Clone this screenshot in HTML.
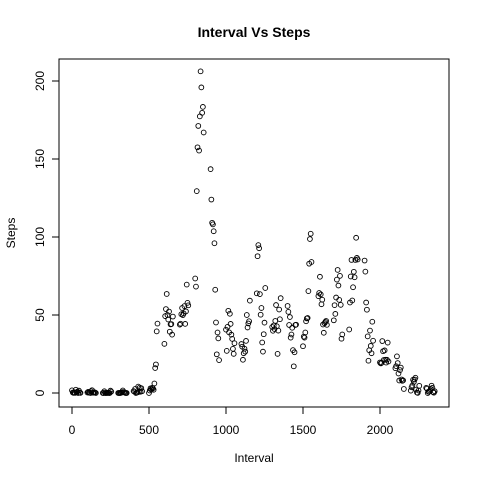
<!DOCTYPE html>
<html><head><meta charset="utf-8"><style>
body{margin:0;background:#fff;}
svg text{font-family:"Liberation Sans",Arial,sans-serif;}
</style></head><body>
<svg id="chart" width="480" height="480" xmlns="http://www.w3.org/2000/svg">
<rect width="480" height="480" fill="#fff"/>
<text x="254" y="37" text-anchor="middle" font-size="14" font-weight="bold">Interval Vs Steps</text>
<text x="254" y="462" text-anchor="middle" font-size="12">Interval</text>
<text x="15" y="233" text-anchor="middle" font-size="12" transform="rotate(-90 15 233)">Steps</text>
<rect x="59" y="59" width="390" height="348" fill="none" stroke="#000" stroke-width="1"/>
<g id="xaxis"></g><g id="yaxis"></g><g id="points"></g>
</svg>
<script>
const intervals=[];for(let h=0;h<24;h++)for(let m=0;m<60;m+=5)intervals.push(h*100+m);
const steps=[1.7,0.3,0.1,0.2,0.1,2.1,0.5,0.9,0,1.5,0.3,0.1,
0.3,0.7,0.2,0.3,0,1.1,1.8,0.2,0.2,0.4,0.3,0,
0,0,1.1,0,0,0.1,0,0.2,0,0,1.5,0.9,
0,0,0,0,0.2,0.6,1.6,0.6,0.5,0.1,0,0,
1.2,0.9,2.6,0,0.3,0.4,4.1,0.7,3.5,0.8,3.1,1.1,
0,1.6,3,2.2,3.3,3,2.1,6.1,16,18.3,39.5,44.5,
31.5,49.3,53.8,63.5,50,47.1,52.2,39.3,44,44.2,37.4,49,
43.8,44.4,50.5,54.5,49.9,51,55.7,44.3,52.3,69.5,57.8,56.2,
73.4,68.2,129.4,157.5,171.2,155.4,177.3,206.2,195.9,179.6,183.4,167,
143.5,124,109.1,108.1,103.7,96,66.2,45.2,24.8,38.8,35,21.1,
40.6,27,42.4,52.7,38.9,50.8,44.3,37.4,34.7,28.3,25.1,31.9,
31.4,29.7,21.3,25.5,28.4,26.5,33.4,50,42,44.6,46,59.2,
63.9,87.7,94.8,92.8,63.4,50.2,54.5,32.4,26.5,37.7,45.1,67.3,
42.3,39.9,43.3,41,46.2,56.4,42.8,25.1,40,53.5,47.3,60.8,
55.8,52,43.6,48.7,35.5,37.5,41.8,27.5,17.1,26.1,43.6,43.8,
30,36.1,35.5,38.8,46,47.8,48.1,65.3,82.9,98.7,102.1,84,
62.1,64.1,74.5,63.2,56.9,59.8,43.9,38.6,44.7,45.5,46.2,43.7,
46.6,56.3,50.7,61.2,72.7,78.9,68.9,59.7,75.1,56.5,34.8,37.5,
40.7,58,74.7,85.3,59.3,67.8,77.7,74.2,85.3,99.5,86.6,85.6,
84.9,77.8,58,53.4,36.3,20.7,27.4,40,30.2,25.5,45.7,33.5,
19.6,19,19.3,33.3,26.8,21.2,27.3,21.3,19.5,21.3,32.3,20.2,
15.9,17.2,23.5,19.2,12.5,8,14.7,16.3,8.7,7.8,8.1,2.6,
1.5,3.7,4.8,8.5,7.1,8.7,9.8,2.2,0.3,0.1,1.6,4.6,
3.3,2.8,0,0.8,1,1.6,2.6,4.7,3.3,0.6,0.2,1.1];
const xTicks=[0,500,1000,1500,2000];
const yTicks=[0,50,100,150,200];
const NS="http://www.w3.org/2000/svg";
const X=v=>72+v*0.154, Y=v=>393-v*1.56;
function mk(t,a,p){const e=document.createElementNS(NS,t);for(const k in a)e.setAttribute(k,a[k]);p.appendChild(e);return e;}
const xa=document.getElementById('xaxis'),ya=document.getElementById('yaxis'),pg=document.getElementById('points');
mk('line',{x1:X(0),x2:X(2000),y1:407,y2:407,stroke:'#000'},xa);
xTicks.forEach(t=>{mk('line',{x1:X(t),x2:X(t),y1:407,y2:414,stroke:'#000'},xa);
const tx=mk('text',{x:X(t),y:434,'text-anchor':'middle','font-size':12},xa);tx.textContent=t;

});
mk('line',{x1:59,x2:59,y1:Y(0),y2:Y(200),stroke:'#000'},ya);
yTicks.forEach(t=>{mk('line',{x1:52,x2:59,y1:Y(t),y2:Y(t),stroke:'#000'},ya);
const tx=mk('text',{x:44,y:Y(t),'text-anchor':'middle','font-size':12,transform:`rotate(-90 44 ${Y(t)})`},ya);tx.textContent=t;

});
intervals.forEach((iv,i)=>{const c=mk('circle',{cx:X(iv),cy:Y(steps[i]),r:2.4,fill:'none',stroke:'#000','stroke-width':0.9},pg);

});
</script>
</body></html>
